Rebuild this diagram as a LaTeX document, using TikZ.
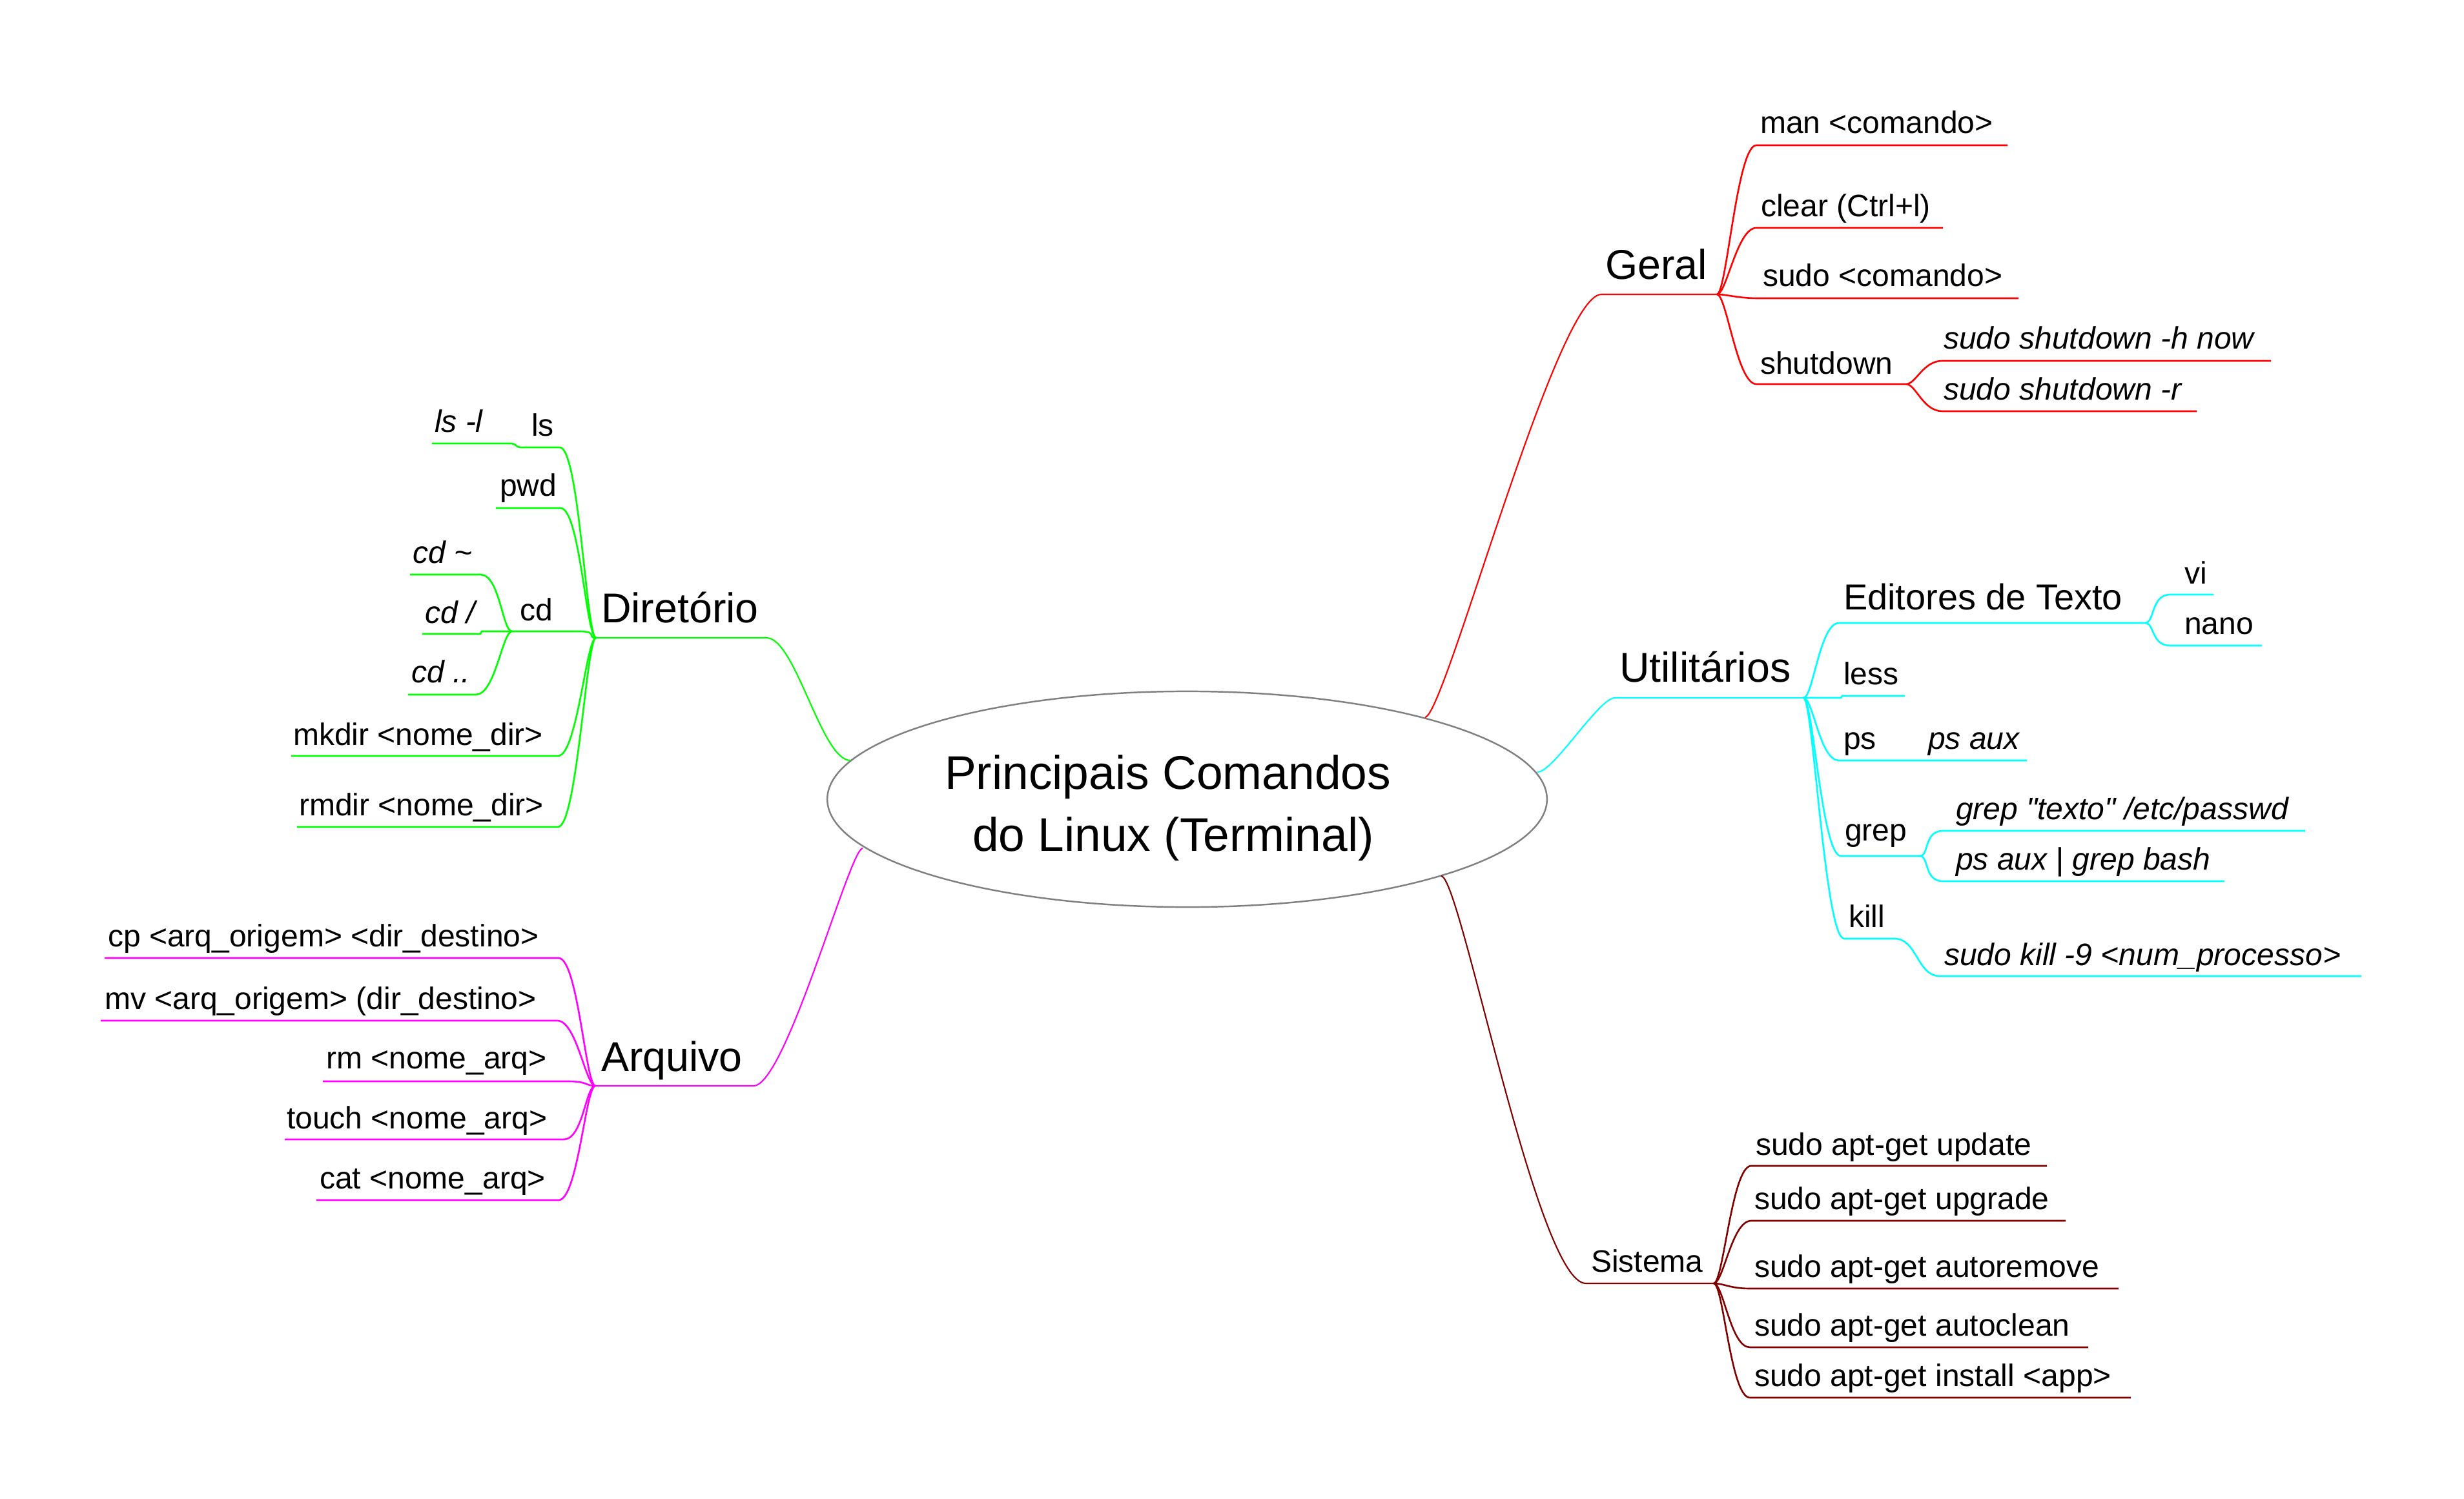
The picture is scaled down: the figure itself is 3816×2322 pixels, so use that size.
\documentclass[tikz,border=0pt]{standalone}
\usepackage{fontspec}
\setmainfont{Liberation Sans}[Ligatures=TeXOff]
\usetikzlibrary{shapes.geometric}
\newcommand\szN{\fontsize{13.66pt}{16pt}\selectfont}
\newcommand\szE{\fontsize{15.9pt}{18pt}\selectfont}
\newcommand\szL{\fontsize{18.35pt}{21pt}\selectfont}
\newcommand\szC{\fontsize{20.8pt}{24pt}\selectfont}
\definecolor{cRed}{HTML}{FF0000}
\definecolor{cCyan}{HTML}{00FFFF}
\definecolor{cGreen}{HTML}{00FF00}
\definecolor{cMag}{HTML}{FF00FF}
\definecolor{cDark}{HTML}{800000}
\definecolor{cGray}{HTML}{808080}
\begin{document}
\begin{tikzpicture}[x=0.01cm,y=-0.01cm,
  txt/.style={anchor=base west, inner sep=0pt, outer sep=0pt, font=\szN, text=black},
  itx/.style={txt, font=\szN\itshape},
  big/.style={txt, font=\szL},
  med/.style={txt, font=\szE},
  ctr/.style={txt, font=\szC},
  kid/.style={line width=0.74pt},
  trunk/.style={line width=0.6pt},
  rc/.style={to path={.. controls +(15,0) and +(-30,0) .. (\tikztotarget)}},
  lc/.style={to path={.. controls +(-15,0) and +(30,0) .. (\tikztotarget)}}
]
\useasboundingbox (0,0) rectangle (3816,2322);

% ---------- root ----------
\node[draw=cGray, line width=0.7pt, ellipse, minimum width=11.14cm, minimum height=3.34cm, inner sep=0pt] (root) at (1838.5,1238) {};
\node[ctr] (t1) at (1463,1222) {Principais Comandos};
\node[ctr] (t2) at (1506,1318.5) {do Linux (Terminal)};

% ---------- Geral ----------
\coordinate (rA) at (2207,1111);
\coordinate (gU) at (2480,456);
\coordinate (gH) at (2659,456);
\draw[trunk, cRed] (rA) .. controls +(30,0) and +(-70,0) .. (gU) -- (gH);
\node[big] (geral) at (2486,433) {Geral};
\coordinate (manS) at (2720,225); \coordinate (manE) at (3109,225);
\coordinate (clrS) at (2720,353); \coordinate (clrE) at (3009,353);
\coordinate (sudS) at (2722,462); \coordinate (sudE) at (3126,462);
\coordinate (shdS) at (2720,595); \coordinate (shdH) at (2952,595);
\coordinate (shhS) at (3008,559); \coordinate (shhE) at (3517,559);
\coordinate (shrS) at (3008,637); \coordinate (shrE) at (3402,637);
\draw[kid, cRed] (gH) to[rc] (manS) -- (manE);
\draw[kid, cRed] (gH) to[rc] (clrS) -- (clrE);
\draw[kid, cRed] (gH) to[rc] (sudS) -- (sudE);
\draw[kid, cRed] (gH) to[rc] (shdS) -- (shdH);
\draw[kid, cRed] (shdH) to[rc] (shhS) -- (shhE);
\draw[kid, cRed] (shdH) to[rc] (shrS) -- (shrE);
\node[txt] (man) at (2726,207) {man <comando>};
\node[txt] (clr) at (2727,336) {clear (Ctrl+l)};
\node[txt] (sud) at (2730,444) {sudo <comando>};
\node[txt] (shd) at (2726,580) {shutdown};
\node[itx] (shh) at (3010,541) {sudo shutdown -h now};
\node[itx] (shr) at (3010,620) {sudo shutdown -r};

% ---------- Utilitarios ----------
\coordinate (cA) at (2381,1196);
\coordinate (uU) at (2501,1081);
\coordinate (uH) at (2793,1081);
\draw[trunk, cCyan] (cA) .. controls +(25,0) and +(-25,0) .. (uU) -- (uH);
\node[big] (util) at (2508,1056) {Utilitários};
\coordinate (edS) at (2848,965); \coordinate (edH) at (3322,965);
\coordinate (viS) at (3361,921); \coordinate (viE) at (3428,921);
\coordinate (naS) at (3361,1000); \coordinate (naE) at (3503,1000);
\coordinate (leJ) at (2851,1081); \coordinate (leS) at (2853,1078); \coordinate (leE) at (2950,1078);
\coordinate (psS) at (2848,1178); \coordinate (psE) at (3139,1178);
\coordinate (grS) at (2851,1326); \coordinate (grH) at (2973,1326);
\coordinate (g1S) at (3009,1287); \coordinate (g1E) at (3570,1287);
\coordinate (g2S) at (3009,1365); \coordinate (g2E) at (3445,1365);
\coordinate (kiS) at (2856,1454); \coordinate (kiE) at (2934,1454);
\coordinate (k9S) at (3004,1512); \coordinate (k9E) at (3657,1512);
\draw[kid, cCyan] (uH) to[rc] (edS) -- (edH);
\draw[kid, cCyan] (edH) to[rc] (viS) -- (viE);
\draw[kid, cCyan] (edH) to[rc] (naS) -- (naE);
\draw[kid, cCyan] (uH) -- (leJ) -- (leS) -- (leE);
\draw[kid, cCyan] (uH) to[rc] (psS) -- (psE);
\draw[kid, cCyan] (uH) to[rc] (grS) -- (grH);
\draw[kid, cCyan] (grH) to[rc] (g1S) -- (g1E);
\draw[kid, cCyan] (grH) to[rc] (g2S) -- (g2E);
\draw[kid, cCyan] (uH) to[rc] (kiS) -- (kiE) .. controls +(35,0) and +(-35,0) .. (k9S) -- (k9E);
\node[med] (edit) at (2855,944) {Editores de Texto};
\node[txt] (vi) at (3383,904) {vi};
\node[txt] (nano) at (3383,982) {nano};
\node[txt] (less) at (2855,1060) {less};
\node[txt] (ps) at (2855,1160) {ps};
\node[itx] (psaux) at (2986,1160) {ps aux};
\node[txt] (grep) at (2857,1302) {grep};
\node[itx] (g1) at (3029,1269) {grep "texto" /etc/passwd};
\node[itx] (g2) at (3029,1347) {ps aux | grep bash};
\node[txt] (kill) at (2863,1436) {kill};
\node[itx] (k9) at (3011,1495) {sudo kill -9 <num\_processo>};

% ---------- Sistema ----------
\coordinate (sA) at (2232,1357);
\coordinate (sU) at (2456,1988);
\coordinate (sH) at (2654,1988);
\draw[trunk, cDark] (sA) .. controls +(30,0) and +(-76,0) .. (sU) -- (sH);
\node[txt] (sist) at (2464,1970) {Sistema};
\coordinate (upS) at (2712,1806); \coordinate (upE) at (3170,1806);
\coordinate (ugS) at (2712,1891); \coordinate (ugE) at (3199,1891);
\coordinate (arS) at (2710,1996); \coordinate (arE) at (3281,1996);
\coordinate (acS) at (2710,2087); \coordinate (acE) at (3234,2087);
\coordinate (inS) at (2710,2165); \coordinate (inE) at (3300,2165);
\draw[kid, cDark] (sH) to[rc] (upS) -- (upE);
\draw[kid, cDark] (sH) to[rc] (ugS) -- (ugE);
\draw[kid, cDark] (sH) to[rc] (arS) -- (arE);
\draw[kid, cDark] (sH) to[rc] (acS) -- (acE);
\draw[kid, cDark] (sH) to[rc] (inS) -- (inE);
\node[txt] (upd) at (2719,1789) {sudo apt-get update};
\node[txt] (upg) at (2717,1873) {sudo apt-get upgrade};
\node[txt] (arm) at (2717,1978) {sudo apt-get autoremove};
\node[txt] (acl) at (2717,2069) {sudo apt-get autoclean};
\node[txt] (ins) at (2717,2147) {sudo apt-get install <app>};

% ---------- Diretorio ----------
\coordinate (gA) at (1317,1178);
\coordinate (dU) at (1187,988);
\coordinate (dH) at (923,988);
\draw[trunk, cGreen] (gA) .. controls +(-45,0) and +(45,0) .. (dU) -- (dH);
\node[big] (dir) at (931,964) {Diretório};
\coordinate (lsS) at (867,693); \coordinate (lsE) at (806,693);
\coordinate (llS) at (792,687); \coordinate (llE) at (669,687);
\coordinate (pwS) at (868,787); \coordinate (pwE) at (768,787);
\coordinate (cdS) at (897,978); \coordinate (cdH) at (793,978);
\coordinate (c1S) at (744,890); \coordinate (c1E) at (635,890);
\coordinate (c2J) at (746,978); \coordinate (c2S) at (744,982); \coordinate (c2E) at (654,982);
\coordinate (c3S) at (737,1076); \coordinate (c3E) at (632,1076);
\coordinate (mkS) at (864,1171); \coordinate (mkE) at (451,1171);
\coordinate (rdS) at (864,1281); \coordinate (rdE) at (460,1281);
\draw[kid, cGreen] (dH) to[lc] (lsS) -- (lsE) .. controls +(-7,0) and +(7,0) .. (llS) -- (llE);
\draw[kid, cGreen] (dH) to[lc] (pwS) -- (pwE);
\draw[kid, cGreen] (dH) to[lc] (cdS) -- (cdH);
\draw[kid, cGreen] (cdH) to[lc] (c1S) -- (c1E);
\draw[kid, cGreen] (cdH) -- (c2J) -- (c2S) -- (c2E);
\draw[kid, cGreen] (cdH) to[lc] (c3S) -- (c3E);
\draw[kid, cGreen] (dH) to[lc] (mkS) -- (mkE);
\draw[kid, cGreen] (dH) to[lc] (rdS) -- (rdE);
\node[txt] (ls) at (823,676) {ls};
\node[itx] (lsl) at (673,670) {ls -l};
\node[txt] (pwd) at (774,769) {pwd};
\node[txt] (cd) at (805,961) {cd};
\node[itx] (cd1) at (639,873) {cd \char"007E};
\node[itx] (cd2) at (658,965) {cd /};
\node[itx] (cd3) at (637,1057) {cd ..};
\node[txt] (mkd) at (454,1154) {mkdir <nome\_dir>};
\node[txt] (rmd) at (463,1263) {rmdir <nome\_dir>};

% ---------- Arquivo ----------
\coordinate (mA) at (1336,1314);
\coordinate (aU) at (1167,1682);
\coordinate (aH) at (922,1682);
\draw[trunk, cMag] (mA) .. controls +(-20,0) and +(50,0) .. (aU) -- (aH);
\node[big] (arq) at (931,1659) {Arquivo};
\coordinate (cpS) at (865,1484); \coordinate (cpE) at (162,1484);
\coordinate (mvS) at (863,1581); \coordinate (mvE) at (156,1581);
\coordinate (rmS) at (880,1675); \coordinate (rmE) at (500,1675);
\coordinate (toS) at (873,1765); \coordinate (toE) at (441,1765);
\coordinate (caS) at (865,1859); \coordinate (caE) at (490,1859);
\draw[kid, cMag] (aH) to[lc] (cpS) -- (cpE);
\draw[kid, cMag] (aH) to[lc] (mvS) -- (mvE);
\draw[kid, cMag] (aH) to[lc] (rmS) -- (rmE);
\draw[kid, cMag] (aH) to[lc] (toS) -- (toE);
\draw[kid, cMag] (aH) to[lc] (caS) -- (caE);
\node[txt] (cp) at (167,1466) {cp <arq\_origem> <dir\_destino>};
\node[txt] (mv) at (162,1563) {mv <arq\_origem> (dir\_destino>};
\node[txt] (rm) at (505,1655) {rm <nome\_arq>};
\node[txt] (tch) at (444,1748) {touch <nome\_arq>};
\node[txt] (cat) at (495,1841) {cat <nome\_arq>};
\end{tikzpicture}
\end{document}
